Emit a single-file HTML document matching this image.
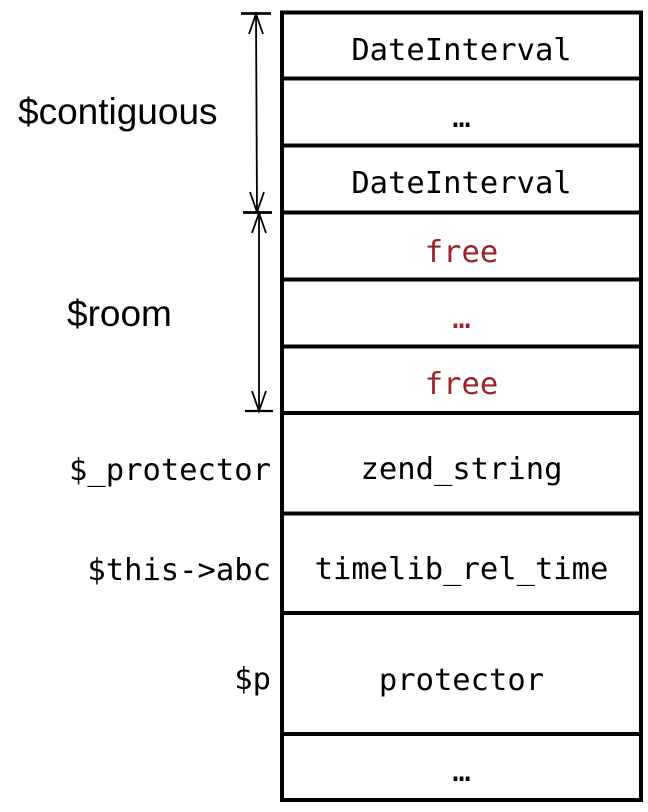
<!DOCTYPE html>
<html>
<head>
<meta charset="utf-8">
<style>
html,body{margin:0;padding:0;background:#fff;}
svg{display:block;}
.mono{font-family:"DejaVu Sans Mono","Liberation Mono",monospace;font-size:30.5px;}
.sans{font-family:"Liberation Sans","DejaVu Sans",sans-serif;font-size:37px;}
</style>
</head>
<body>
<svg width="648" height="812" viewBox="0 0 648 812" xmlns="http://www.w3.org/2000/svg">
<rect x="0" y="0" width="648" height="812" fill="#fff"/>
<!-- main box -->
<g stroke="#000" stroke-width="4" fill="none">
<rect x="282" y="12.5" width="359" height="787.5"/>
<line x1="282" y1="78.5" x2="641" y2="78.5"/>
<line x1="282" y1="145.5" x2="641" y2="145.5"/>
<line x1="282" y1="212.5" x2="641" y2="212.5"/>
<line x1="282" y1="279.5" x2="641" y2="279.5"/>
<line x1="282" y1="346.5" x2="641" y2="346.5"/>
<line x1="282" y1="413" x2="641" y2="413"/>
<line x1="282" y1="513.5" x2="641" y2="513.5"/>
<line x1="282" y1="613" x2="641" y2="613"/>
<line x1="282" y1="734" x2="641" y2="734"/>
</g>
<!-- dimension arrows -->
<g stroke="#000" fill="none" stroke-width="1.8">
<line x1="241" y1="13.5" x2="271" y2="13.5" stroke-width="2.8"/>
<line x1="256" y1="13.5" x2="257" y2="212"/>
<polyline points="249,34 256,14 263,34"/>
<polyline points="250,192 257,212 264,192"/>
<line x1="243" y1="212.5" x2="272" y2="212.5" stroke-width="2.8"/>
<line x1="259" y1="213" x2="259" y2="411"/>
<polyline points="252,233 259,213 266,233"/>
<polyline points="252,391 259,411 266,391"/>
<line x1="245" y1="411" x2="273" y2="411" stroke-width="2.2"/>
</g>
<!-- left labels -->
<text class="sans" x="18" y="124" fill="#000">$contiguous</text>
<text class="sans" x="67" y="326" fill="#000">$room</text>
<text class="mono" x="271" y="480" text-anchor="end" fill="#000">$_protector</text>
<text class="mono" x="271" y="580" text-anchor="end" fill="#000">$this-&gt;abc</text>
<text class="mono" x="271" y="689" text-anchor="end" fill="#000">$p</text>
<!-- cell labels -->
<g class="mono" text-anchor="middle" fill="#000">
<text x="461.5" y="60">DateInterval</text>
<text x="461.5" y="127">…</text>
<text x="461.5" y="193">DateInterval</text>
<text x="461.5" y="262" fill="#9a2228">free</text>
<text x="461.5" y="328" fill="#9a2228">…</text>
<text x="461.5" y="394" fill="#9a2228">free</text>
<text x="461.5" y="479">zend_string</text>
<text x="461.5" y="579">timelib_rel_time</text>
<text x="461.5" y="690">protector</text>
<text x="461.5" y="781">…</text>
</g>
</svg>
</body>
</html>
